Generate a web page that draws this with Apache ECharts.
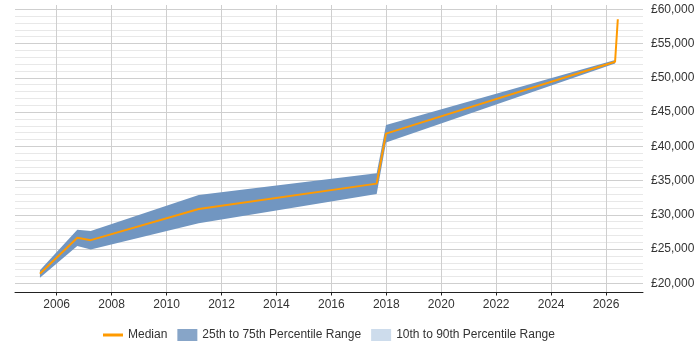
<!DOCTYPE html>
<html>
<head>
<meta charset="utf-8">
<script src="https://cdn.jsdelivr.net/npm/echarts@6/dist/echarts.min.js"></script>
<style>
html,body{margin:0;padding:0;background:#fff;}
#chart{width:700px;height:350px;}
</style>
</head>
<body>
<div id="chart"></div>
<script>
// Data
var years   = [2005.39, 2006.75, 2007.24, 2011.17, 2017.65, 2017.99, 2026.33, 2026.43];
var median  = [21400, 26650, 26300, 30850, 34550, 41850, 52350, 58550];
var p25     = [20800, 25450, 24950, 28750, 33050, 40550, 52100, 58500];
var p75     = [21900, 27800, 27650, 32900, 36050, 43100, 52600, 58600];
var xTicks  = [2006, 2008, 2010, 2012, 2014, 2016, 2018, 2020, 2022, 2024, 2026];
var yLabels = [20000, 25000, 30000, 35000, 40000, 45000, 50000, 55000, 60000];
var legendNames = ['Median', '25th to 75th Percentile Range', '10th to 90th Percentile Range'];

var FONT = 'Arial, "Liberation Sans", sans-serif';
var X_MIN = 2004.482, X_MAX = 2027.347;

function fmtMoney(v) {
  return '£' + String(v).replace(/\B(?=(\d{3})+(?!\d))/g, ',');
}

var medianData = years.map(function (y, i) { return [y, median[i]]; });
var bandData = years.map(function (y, i) { return [y, p25[i], p75[i]]; });

var chart = echarts.init(document.getElementById('chart'), null, {renderer: 'canvas'});
chart.setOption({
  animation: false,
  backgroundColor: '#fff',
  textStyle: {fontFamily: FONT},
  grid: [
    {left: 15, right: 57, top: 5, bottom: 57.5, containLabel: false},
    {left: 15, right: 57, top: 9.3, bottom: 66.7, containLabel: false}
  ],
  xAxis: [
    {
      type: 'value', gridIndex: 0, min: X_MIN, max: X_MAX,
      axisLine: {show: true, lineStyle: {color: '#222', width: 1}},
      axisTick: {show: true, length: 3, customValues: xTicks, lineStyle: {color: '#222'}},
      axisLabel: {show: true, customValues: xTicks, margin: 6, fontSize: 12, color: '#333', fontFamily: FONT,
        formatter: function (v) { return String(Math.round(v)); }},
      splitLine: {show: true, lineStyle: {color: '#cfcfcf', width: 1}}
    },
    {
      type: 'value', gridIndex: 1, min: X_MIN, max: X_MAX, show: false,
      splitLine: {show: false}
    }
  ],
  yAxis: [
    {type: 'value', gridIndex: 0, min: 0, max: 1, show: false, splitLine: {show: false}},
    {
      type: 'value', gridIndex: 1, position: 'right', min: 20000, max: 60000, interval: 1000,
      axisLine: {show: false}, axisTick: {show: false},
      axisLabel: {show: true, margin: 8, fontSize: 12, color: '#333', fontFamily: FONT,
        formatter: function (v) { return yLabels.indexOf(v) >= 0 ? fmtMoney(v) : ''; }},
      splitLine: {show: true, lineStyle: {color: ['#cfcfcf', '#e8e8e8', '#e8e8e8', '#e8e8e8', '#e8e8e8'], width: 1}}
    }
  ],
  legend: {
    left: 103, top: 329, padding: 0, itemWidth: 20, itemHeight: 12, itemGap: 10,
    textStyle: {fontSize: 12, color: '#333', fontFamily: FONT},
    data: [
      {name: legendNames[0], icon: 'path://M0,0 L20,0 L20,3 L0,3 Z', itemStyle: {color: '#ff9a00'}},
      {name: legendNames[1], icon: 'rect', itemStyle: {color: '#87a5c8'}},
      {name: legendNames[2], icon: 'rect', itemStyle: {color: '#cddcec'}}
    ]
  },
  series: [
    {
      name: legendNames[2], type: 'line', xAxisIndex: 1, yAxisIndex: 1, data: [],
      symbol: 'none', itemStyle: {color: '#cddcec'}, lineStyle: {color: '#cddcec'}
    },
    {
      name: legendNames[1], type: 'custom', xAxisIndex: 1, yAxisIndex: 1,
      itemStyle: {color: '#7196c1'},
      encode: {x: 0, y: [1, 2]},
      data: bandData,
      renderItem: function (params, api) {
        if (params.dataIndexInside !== 0) return null;
        var n = params.dataInsideLength;
        var pts = [];
        for (var i = 0; i < n; i++) pts.push(api.coord([api.value(0, i), api.value(2, i)]));
        for (var j = n - 1; j >= 0; j--) pts.push(api.coord([api.value(0, j), api.value(1, j)]));
        return {type: 'polygon', shape: {points: pts}, style: {fill: '#7196c1'}};
      }
    },
    {
      name: legendNames[0], type: 'line', xAxisIndex: 1, yAxisIndex: 1, data: medianData,
      symbol: 'none', itemStyle: {color: '#ff9a00'}, lineStyle: {color: '#ff9a00', width: 2}
    }
  ]
});
</script>
</body>
</html>
